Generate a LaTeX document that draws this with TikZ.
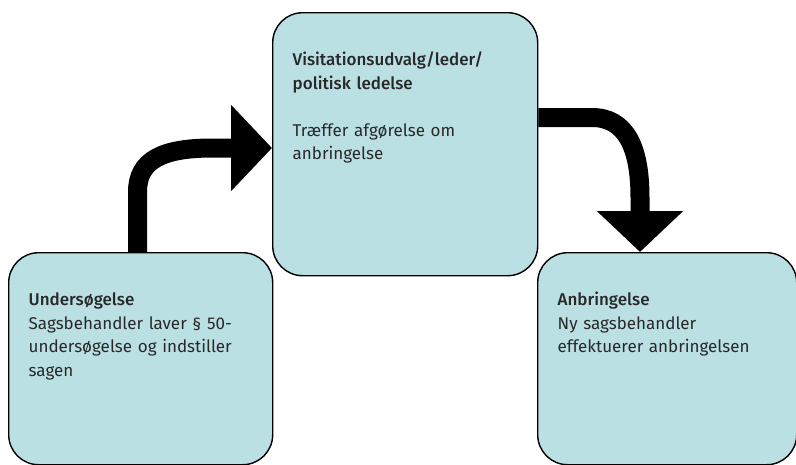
\documentclass[tikz,border=0pt]{standalone}
\usepackage{fontspec}
\setmainfont{Fira Sans}[BoldFont=Fira Sans Medium]
\usetikzlibrary{arrows.meta,positioning}
\definecolor{boxBlue}{RGB}{186,224,227}
\definecolor{inkDark}{RGB}{40,40,40}
\tikzset{
  step box/.style={draw=black,fill=boxBlue,rounded corners=30pt,line width=1.4pt,anchor=north west,align=left,text=inkDark,font=\fontsize{17}{23.5}\selectfont,inner xsep=20pt,inner ysep=12pt,text height=41pt},
  flow arrow/.style={-{Triangle[length=41pt,width=84pt]},line width=19pt,draw=black}
}
\newcommand{\boxtitle}[1]{\textbf{#1}}

\begin{document}
\begin{tikzpicture}[x=1pt,y=-1pt]
    \useasboundingbox (0,0) rectangle (796,464);
    \node[step box,text width=224pt,text depth=147pt] (investigation) at (8,252) {\boxtitle{Undersøgelse}\\\mbox{Sagsbehandler laver § 50-}\\undersøgelse og indstiller\\sagen};
    \node[step box,text width=225pt,text depth=198pt] (decision) at (272,12) {\boxtitle{Visitationsudvalg/leder/}\\\boxtitle{politisk ledelse}\\[23.5pt]Træffer afgørelse om\\anbringelse};
    \node[step box,text width=219pt,text depth=147pt] (placement) at (537,252) {\boxtitle{Anbringelse}\\Ny sagsbehandler\\effektuerer anbringelsen};
    \coordinate (bend one) at (137.5,148);
    \coordinate (bend two) at (640,117.5);
    \draw[flow arrow] (investigation.north west -| bend one) -- ++(0,-60) .. controls ++(0,-32) and ++(-50,0) .. ([xshift=75pt]bend one) -- (decision.west |- bend one);
    \draw[flow arrow] (decision.east |- bend two) -- ([xshift=-48pt]bend two) .. controls ++(34,0) and ++(0,-50) .. ([yshift=-80pt]bend two) -- (placement.north west -| bend two);
  \end{tikzpicture}
\end{document}
